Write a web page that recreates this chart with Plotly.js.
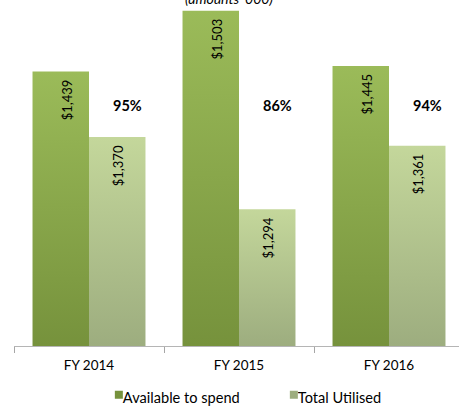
<!DOCTYPE html>
<html>
<head>
<meta charset="utf-8">
<script src="https://cdn.plot.ly/plotly-3.0.1.min.js"></script>
<style>
html, body { margin: 0; padding: 0; overflow: hidden; background: #fff; }
#chart { width: 470px; height: 407px; }
</style>
</head>
<body>
<div id="chart"></div>
<script>
// ---- data ----
const categories = ['FY 2014', 'FY 2015', 'FY 2016'];
const availableToSpend = [1439, 1503, 1445];
const totalUtilised = [1370, 1294, 1361];
const seriesNames = ['Available to spend', 'Total Utilised'];
const chartNote = "(amounts '000)";

const pctLabels = categories.map((c, i) => Math.round(totalUtilised[i] / availableToSpend[i] * 100) + '%');

const FONT = 'Lato, "Open Sans", sans-serif';

const traces = [
  {
    type: 'bar', name: seriesNames[0], x: categories, y: availableToSpend,
    marker: { color: '#8BAA4B' },
    texttemplate: '$%{y:,.0f}', textposition: 'inside', insidetextanchor: 'end',
    textangle: -90, insidetextfont: { family: FONT, size: 13, color: '#000' },
    hoverinfo: 'skip'
  },
  {
    type: 'bar', name: seriesNames[1], x: categories, y: totalUtilised,
    marker: { color: '#B3C48E' },
    texttemplate: '$%{y:,.0f}', textposition: 'inside', insidetextanchor: 'end',
    textangle: -90, insidetextfont: { family: FONT, size: 13, color: '#000' },
    hoverinfo: 'skip'
  }
];

const annotations = categories.map((c, i) => ({
  x: c, xref: 'x', xshift: 38,
  y: 0.695, yref: 'paper', yanchor: 'middle',
  text: '<b>' + pctLabels[i] + '</b>', showarrow: false,
  font: { family: FONT, size: 14.5, color: '#000' }
}));
annotations.push({
  x: 0.477, xref: 'paper', y: 1, yref: 'paper', yanchor: 'middle', yshift: 2,
  text: '<i>' + chartNote + '</i>', showarrow: false,
  font: { family: FONT, size: 14, color: '#000' }
});

const layout = {
  width: 470, height: 407,
  margin: { l: 14, r: 6, t: 0, b: 61 },
  paper_bgcolor: '#fff', plot_bgcolor: '#fff',
  barmode: 'group', bargap: 0.247, bargroupgap: 0,
  font: { family: FONT, size: 13, color: '#000' },
  xaxis: {
    type: 'category', range: [-0.5, 2.5],
    showline: true, linecolor: '#B5B5B5', linewidth: 1,
    ticks: 'outside', tickson: 'boundaries', ticklen: 6, tickcolor: '#A6A6A6', tickwidth: 1,
    ticklabelstandoff: 7,
    tickfont: { family: FONT, size: 13.5, color: '#000' },
    showgrid: false, zeroline: false, fixedrange: true
  },
  yaxis: {
    range: [1150, 1514.4], visible: false, showgrid: false, zeroline: false, fixedrange: true
  },
  showlegend: true,
  legend: {
    orientation: 'h', x: 0.153, xanchor: 'left', yref: 'container', y: 0.023, yanchor: 'middle',
    font: { family: FONT, size: 14.6, color: '#000' }, bgcolor: 'rgba(0,0,0,0)',
    itemwidth: 30, entrywidth: 130, traceorder: 'normal', itemclick: false, itemdoubleclick: false
  },
  annotations: annotations
};

const gradColors = [['#9BBB59', '#76923C'], ['#C4D79B', '#9DAD7F']];
const labelShift = [[6, 5], [1, 5]];

Plotly.newPlot('chart', traces, layout, { staticPlot: true, displayModeBar: false }).then(gd => {
  const ns = 'http://www.w3.org/2000/svg';
  const svg = gd.querySelector('svg.main-svg');
  let defs = svg.querySelector('defs');
  if (!defs) { defs = document.createElementNS(ns, 'defs'); svg.insertBefore(defs, svg.firstChild); }
  const h = gd._fullLayout._size.h;
  let k = 0;
  const makeGrad = (top, bottom, cols) => {
    const id = 'bargrad' + (k++);
    const g = document.createElementNS(ns, 'linearGradient');
    g.setAttribute('id', id);
    g.setAttribute('gradientUnits', 'userSpaceOnUse');
    g.setAttribute('x1', 0); g.setAttribute('x2', 0);
    g.setAttribute('y1', top); g.setAttribute('y2', bottom);
    cols.forEach((c, j) => {
      const s = document.createElementNS(ns, 'stop');
      s.setAttribute('offset', j === 0 ? '0' : '1');
      s.setAttribute('stop-color', c);
      g.appendChild(s);
    });
    defs.appendChild(g);
    return id;
  };
  gd.querySelectorAll('.barlayer .trace').forEach((tr, i) => {
    tr.querySelectorAll('path').forEach(p => {
      const bb = p.getBBox();
      const id = makeGrad(bb.y, h, gradColors[i]);
      p.style.fill = 'url(#' + id + ')';
    });
    tr.querySelectorAll('text').forEach(t => {
      const tf = t.getAttribute('transform') || '';
      t.setAttribute('transform', 'translate(' + labelShift[i][0] + ',' + labelShift[i][1] + ') ' + tf);
    });
  });
  gd.querySelectorAll('.legend .traces').forEach((tr, i) => {
    tr.querySelectorAll('.legendpoints path').forEach(p => {
      p.style.fill = gradColors[i][1];
      p.setAttribute('d', 'M20,1H12V-7H20Z');
    });
  });
});
</script>
</body>
</html>
